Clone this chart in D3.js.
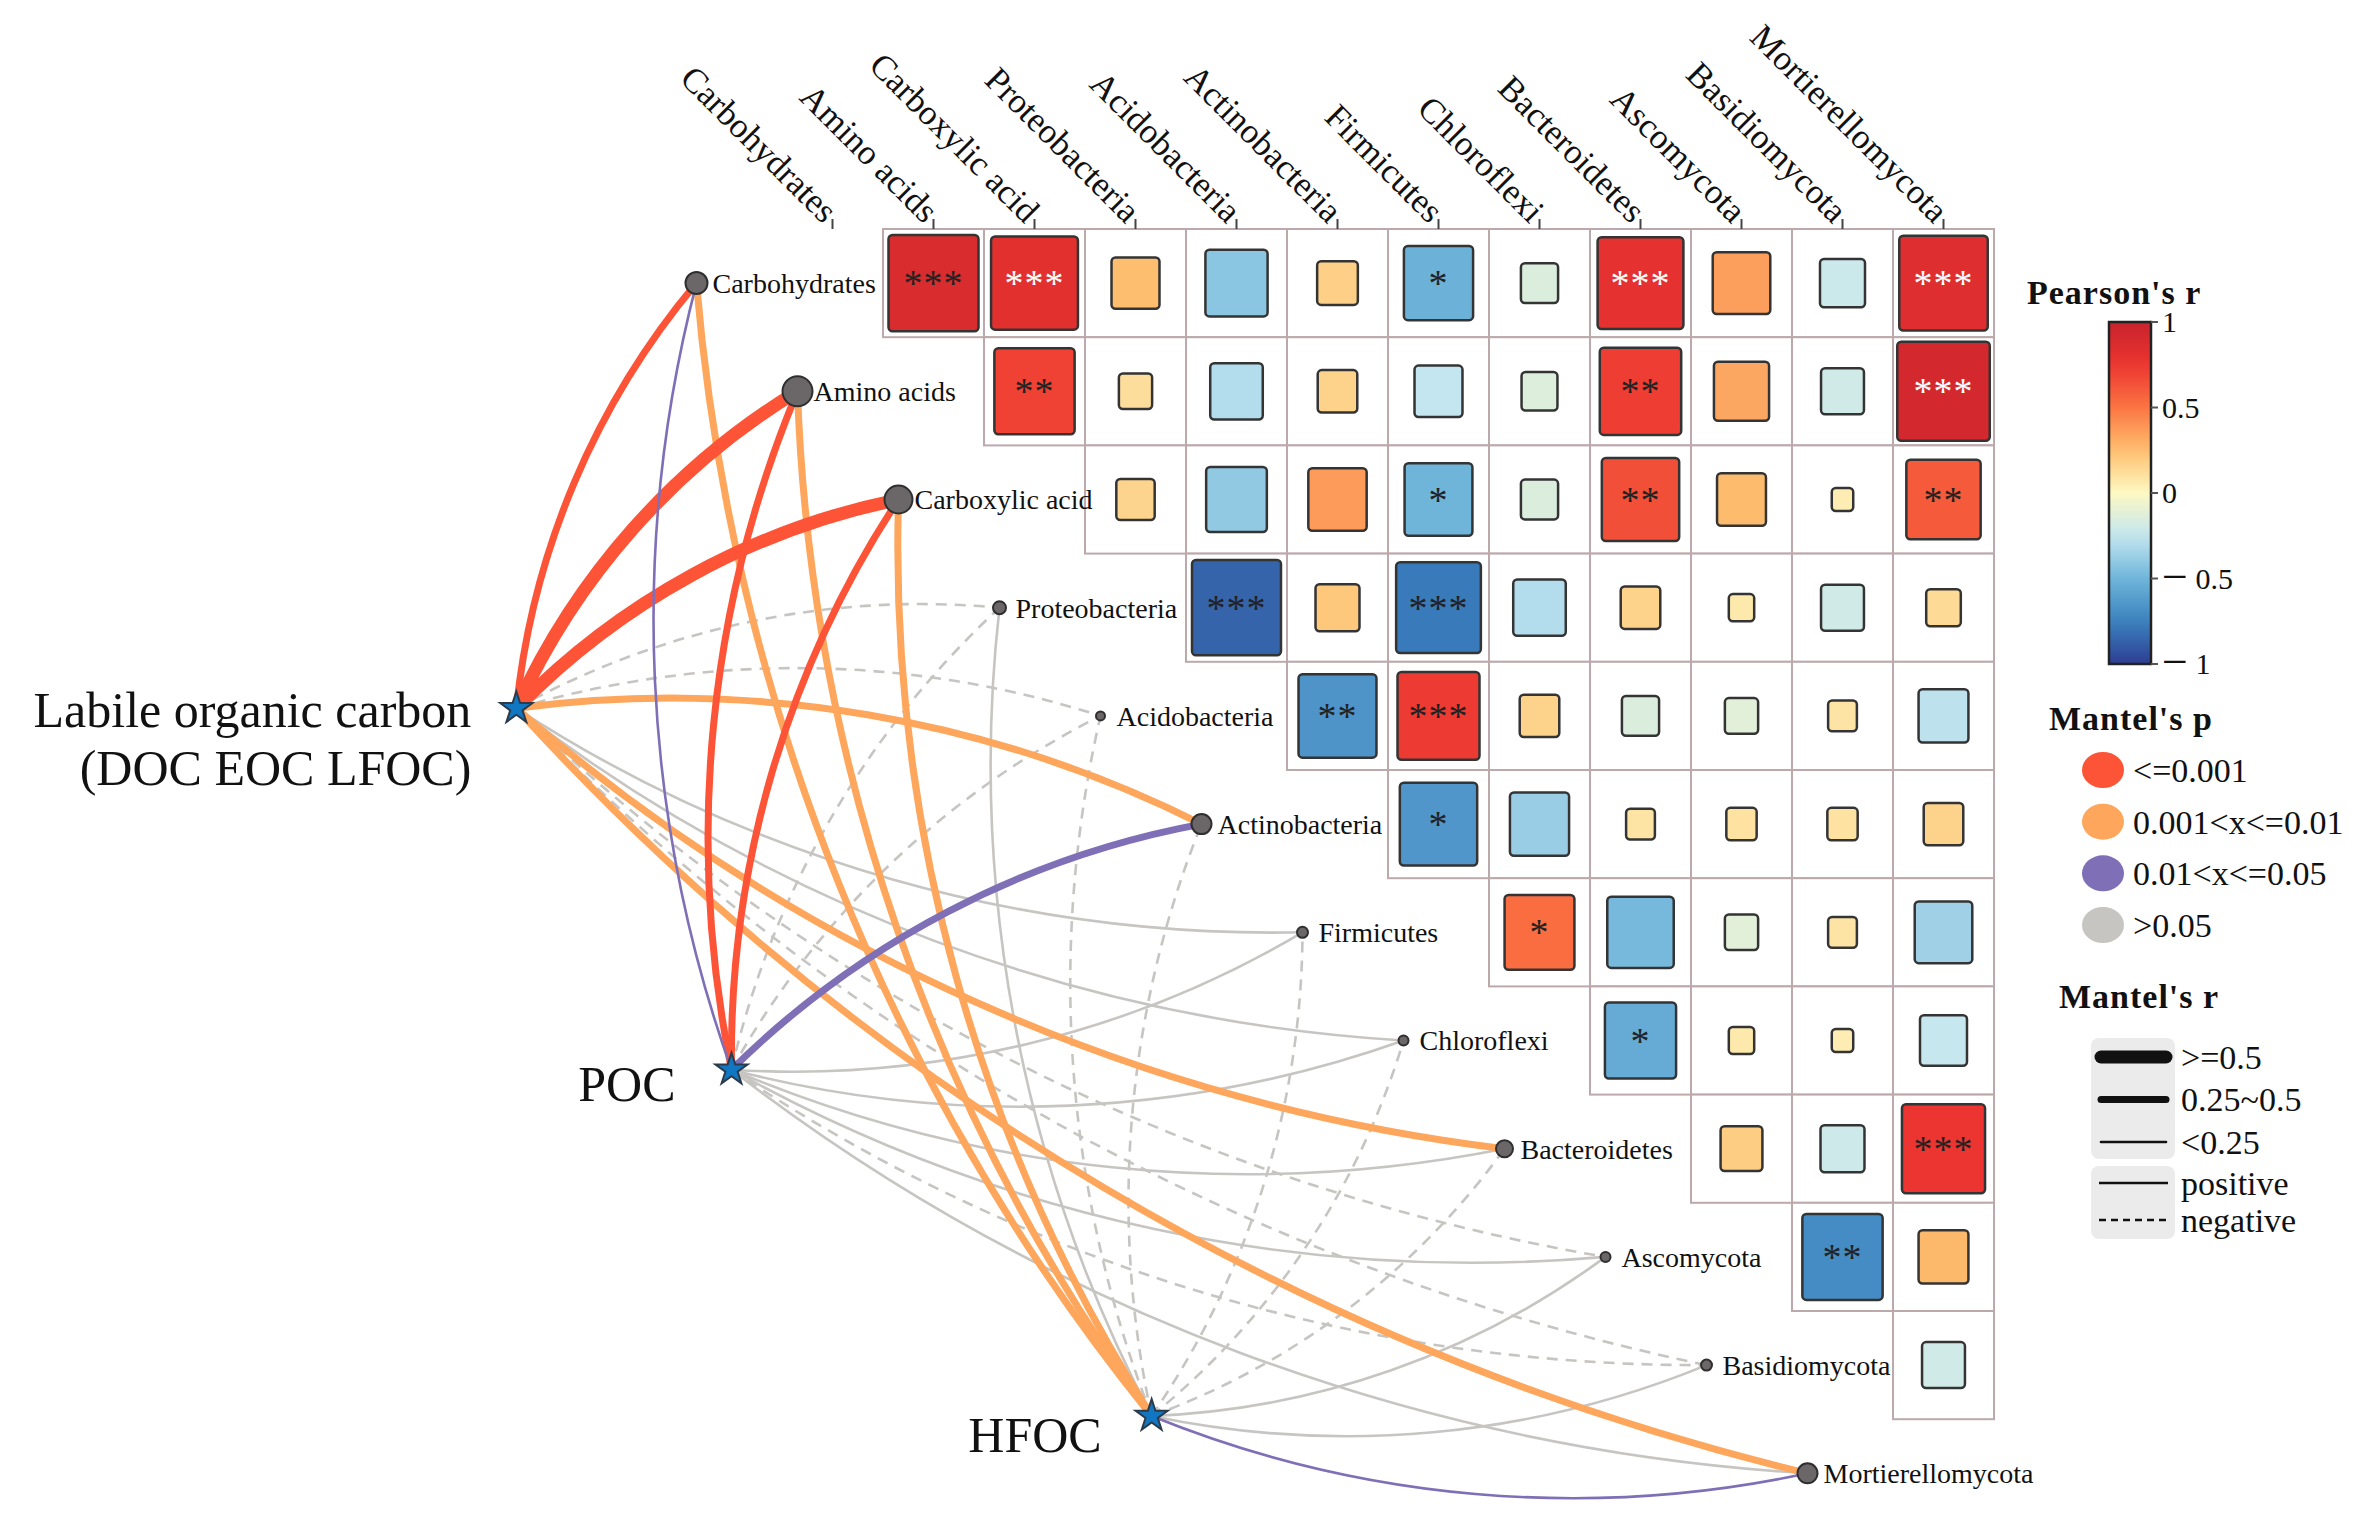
<!DOCTYPE html>
<html><head><meta charset="utf-8">
<script src="https://cdn.jsdelivr.net/npm/d3@7"></script>
<style>
html,body{margin:0;padding:0;background:#fff;}
svg text{font-family:"Liberation Serif","Times New Roman",serif;fill:#111;}
</style></head><body>
<svg id="chart" width="2367" height="1522"></svg>
<script>
// ---------------- DATA ----------------
const variables = ["Carbohydrates","Amino acids","Carboxylic acid","Proteobacteria","Acidobacteria","Actinobacteria","Firmicutes","Chloroflexi","Bacteroidetes","Ascomycota","Basidiomycota","Mortierellomycota"];

// Pearson's r, upper triangle: row i holds r with columns i+1 .. 11
const pearsonR = [
 [0.88, 0.82, 0.25, -0.42, 0.18, -0.52, -0.15, 0.80, 0.36, -0.22, 0.85],
 [0.70, 0.12, -0.30, 0.17, -0.25, -0.14, 0.72, 0.33, -0.20, 0.93],
 [0.16, -0.40, 0.37, -0.50, -0.15, 0.65, 0.26, 0.05, 0.60],
 [-0.86, 0.21, -0.78, -0.30, 0.17, 0.07, -0.20, 0.13],
 [-0.66, 0.73, 0.17, -0.15, -0.12, 0.09, -0.27],
 [-0.65, -0.38, 0.09, 0.10, 0.10, 0.17],
 [0.53, -0.48, -0.12, 0.09, -0.36],
 [-0.55, 0.07, 0.05, -0.24],
 [0.19, -0.21, 0.75],
 [-0.70, 0.27],
 [-0.20]
];
const pearsonSig = [
 ["***","***","","","","*","","***","","","***"],
 ["**","","","","","","**","","","***"],
 ["","","","*","","**","","","**"],
 ["***","","***","","","","",""],
 ["**","***","","","","",""],
 ["*","","","","",""],
 ["*","","","",""],
 ["*","","",""],
 ["","","***"],
 ["**",""],
 [""]
];
// cells whose significance marks are printed in white
const whiteMarks = [["Carbohydrates","Carboxylic acid"],["Carbohydrates","Bacteroidetes"],["Carbohydrates","Mortierellomycota"],["Amino acids","Mortierellomycota"]];

const sources = ["Labile organic carbon|(DOC EOC LFOC)", "POC", "HFOC"];
// Mantel r / p for each source against each variable
const mantelR_LOC  = [0.40, 0.58, 0.56, -0.12, -0.10, 0.33, 0.14, 0.11, 0.31, -0.08, -0.06, 0.29];
const mantelP_LOC  = [0.001, 0.001, 0.001, 0.32, 0.41, 0.004, 0.12, 0.21, 0.006, 0.55, 0.62, 0.008];
const mantelR_POC  = [0.18, 0.36, 0.34, -0.09, -0.11, 0.27, 0.13, 0.10, 0.08, 0.05, -0.07, 0.12];
const mantelP_POC  = [0.03, 0.001, 0.001, 0.40, 0.35, 0.02, 0.15, 0.24, 0.30, 0.52, 0.45, 0.20];
const mantelR_HFOC = [0.31, 0.33, 0.29, 0.09, -0.08, -0.10, -0.07, -0.12, -0.06, 0.11, 0.10, 0.19];
const mantelP_HFOC = [0.005, 0.004, 0.007, 0.25, 0.50, 0.33, 0.60, 0.38, 0.70, 0.20, 0.26, 0.04];
// node sizes
const nodeSize = [11, 15, 14, 6.5, 4.5, 10, 5.5, 5, 8.5, 5, 5.5, 10];

const colorbarTicks = [1, 0.5, 0, -0.5, -1];
const pLegendLabels = ["<=0.001", "0.001<x<=0.01", "0.01<x<=0.05", ">0.05"];
const rLegendLabels = [">=0.5", "0.25~0.5", "<0.25"];
const signLegendLabels = ["positive", "negative"];

// ---------------- STYLE / LAYOUT ----------------
const W = 2367, H = 1522;
const gridLeft = 782, cellW = 101, gridTop = 229, cellH = 108.2;
const colorStops = [-1, -0.75, -0.5, -0.25, 0, 0.25, 0.5, 0.75, 1];
const colorRange = ["#2e3d92","#3b82bf","#6fb5da","#c4e6f0","#fdf9c3","#fdbf6f","#fb7543","#ec3530","#c8232d"];
const pColors = ["#fd5437","#fda65c","#7e6fb7","#c7c5c2"];
const rWidths = [13, 7, 2.6];
const sourceAnchor = [[-2.63, 4.43], [-0.5, 7.77], [3.66, 10.97]]; // in cell units
const sourceLabelOffset = [[-45, 19], [-56, 31], [-50, 36]];

const svg = d3.select("#chart");
svg.append("rect").attr("width", W).attr("height", H).attr("fill", "#fff");

const x = d3.scaleBand().domain(variables).range([gridLeft, gridLeft + cellW * variables.length]);
const y = d3.scaleBand().domain(variables).range([gridTop, gridTop + cellH * variables.length]);
const ux = d3.scaleLinear().domain([0, variables.length]).range(x.range());
const uy = d3.scaleLinear().domain([0, variables.length]).range(y.range());
const cx = v => x(v) + x.bandwidth() / 2;
const cy = v => y(v) + y.bandwidth() / 2;
const color = d3.scaleLinear().domain(colorStops).range(colorRange);
const sizeScale = d3.scaleSqrt().domain([0, 1]).range([0, 0.95]);
const nodeR = d3.scaleLinear().domain([0, 1]).range([0, 1]);

const pCat = p => p <= 0.001 ? 0 : p <= 0.01 ? 1 : p <= 0.05 ? 2 : 3;
const rCat = r => Math.abs(r) >= 0.5 ? 0 : Math.abs(r) >= 0.25 ? 1 : 2;

// ---------------- LINKS ----------------
const mantelR = [mantelR_LOC, mantelR_POC, mantelR_HFOC];
const mantelP = [mantelP_LOC, mantelP_POC, mantelP_HFOC];
const srcPos = sourceAnchor.map(a => [ux(a[0]), uy(a[1])]);
const nodeX = v => cx(v) - 136;
const nodeY = v => cy(v);

const links = [];
sources.forEach((s, si) => variables.forEach((v, vi) => {
  links.push({si, vi, v, r: mantelR[si][vi], p: mantelP[si][vi]});
}));
const drawOrder = [3, 1, 0, 2];
links.sort((a, b) => drawOrder.indexOf(pCat(a.p)) - drawOrder.indexOf(pCat(b.p)));

function arcPath(d) {
  const [x1, y1] = srcPos[d.si];
  const x2 = nodeX(d.v), y2 = nodeY(d.v);
  const L = Math.hypot(x2 - x1, y2 - y1);
  const R = L * 1.7;
  const sweep = d.vi < variables.length / 2 ? 1 : 0;
  return `M${x1},${y1}A${R},${R} 0 0 ${sweep} ${x2},${y2}`;
}
svg.append("g").selectAll("path").data(links).join("path")
  .attr("d", arcPath)
  .attr("fill", "none")
  .attr("stroke", d => pColors[pCat(d.p)])
  .attr("stroke-width", d => rWidths[rCat(d.r)])
  .attr("stroke-dasharray", d => d.r < 0 ? "11,8" : null);

// ---------------- CORRELATION GRID ----------------
const cells = [];
pearsonR.forEach((row, i) => row.forEach((r, k) => {
  const j = i + 1 + k;
  cells.push({row: variables[i], col: variables[j], r, sig: pearsonSig[i][k]});
}));
const gGrid = svg.append("g");
gGrid.selectAll("rect.cell").data(cells).join("rect").attr("class", "cell")
  .attr("x", d => x(d.col)).attr("y", d => y(d.row))
  .attr("width", x.bandwidth()).attr("height", y.bandwidth())
  .attr("fill", "#fff").attr("stroke", "#bca9ac").attr("stroke-width", 2);
gGrid.selectAll("rect.sq").data(cells).join("rect").attr("class", "sq")
  .attr("x", d => cx(d.col) - x.bandwidth() * sizeScale(Math.abs(d.r)) / 2)
  .attr("y", d => cy(d.row) - y.bandwidth() * sizeScale(Math.abs(d.r)) / 2)
  .attr("width", d => x.bandwidth() * sizeScale(Math.abs(d.r)))
  .attr("height", d => y.bandwidth() * sizeScale(Math.abs(d.r)))
  .attr("rx", 4).attr("fill", d => color(d.r))
  .attr("stroke", "#343434").attr("stroke-width", 2.5);
const isWhite = d => whiteMarks.some(w => w[0] === d.row && w[1] === d.col);
gGrid.selectAll("text.sig").data(cells.filter(d => d.sig)).join("text").attr("class", "sig")
  .attr("x", d => cx(d.col)).attr("y", d => cy(d.row) + 13)
  .attr("text-anchor", "middle").attr("font-size", 38).attr("letter-spacing", 1)
  .style("fill", d => isWhite(d) ? "#ffffff" : "#222")
  .text(d => d.sig);

// column ticks + labels
const gTop = svg.append("g");
gTop.selectAll("line").data(variables).join("line")
  .attr("x1", v => cx(v)).attr("x2", v => cx(v))
  .attr("y1", gridTop - 10).attr("y2", gridTop)
  .attr("stroke", "#444").attr("stroke-width", 2);
gTop.selectAll("text").data(variables).join("text")
  .attr("transform", v => `translate(${cx(v) - 1},${gridTop - 13}) rotate(45)`)
  .attr("text-anchor", "end").attr("dy", "0.35em").attr("font-size", 35)
  .text(v => v);

// ---------------- NODES ----------------
const gNodes = svg.append("g");
gNodes.selectAll("circle").data(variables).join("circle")
  .attr("cx", nodeX).attr("cy", nodeY)
  .attr("r", (v, i) => nodeR(nodeSize[i]))
  .attr("fill", "#6b6768").attr("stroke", "#2f2f2f").attr("stroke-width", 2);
gNodes.selectAll("text").data(variables).join("text")
  .attr("x", v => nodeX(v) + 16).attr("y", nodeY)
  .attr("dy", "0.35em").attr("font-size", 28)
  .text(v => v);

// stars
const star = d3.symbol().type(d3.symbolStar).size(320);
svg.append("g").selectAll("path").data(srcPos).join("path")
  .attr("transform", d => `translate(${d[0]},${d[1]})`)
  .attr("d", star).attr("fill", "#1277c2").attr("stroke", "#2c3b4a").attr("stroke-width", 2);

// source labels
sources.forEach((s, si) => {
  const lines = s.split("|");
  const t = svg.append("text")
    .attr("text-anchor", "end").attr("font-size", 50)
    .attr("x", srcPos[si][0] + sourceLabelOffset[si][0])
    .attr("y", srcPos[si][1] + sourceLabelOffset[si][1]);
  lines.forEach((ln, li) => t.append("tspan")
    .attr("x", srcPos[si][0] + sourceLabelOffset[si][0])
    .attr("dy", li === 0 ? 0 : 58).text(ln));
});

// ---------------- LEGENDS ----------------
const lg = svg.append("g");
lg.append("text").attr("x", 2027).attr("y", 304).attr("font-size", 34).attr("font-weight", "bold")
  .attr("letter-spacing", 1).text("Pearson's r");
const cbX = 2109, cbW = 42, cbTop = 322, cbBot = 664;
const cbY = d3.scaleLinear().domain([1, -1]).range([cbTop, cbBot]);
const defs = svg.append("defs");
const grad = defs.append("linearGradient").attr("id", "cbgrad")
  .attr("x1", 0).attr("x2", 0).attr("y1", 0).attr("y2", 1);
d3.range(0, 1.0001, 0.05).forEach(t => {
  grad.append("stop").attr("offset", t).attr("stop-color", color(1 - 2 * t));
});
lg.append("rect").attr("x", cbX).attr("y", cbTop).attr("width", cbW).attr("height", cbBot - cbTop)
  .attr("fill", "url(#cbgrad)").attr("stroke", "#222").attr("stroke-width", 2.5);
lg.selectAll("line.cbt").data(colorbarTicks).join("line").attr("class", "cbt")
  .attr("x1", cbX + cbW).attr("x2", cbX + cbW + 7)
  .attr("y1", d => cbY(d)).attr("y2", d => cbY(d))
  .attr("stroke", "#555").attr("stroke-width", 2);
const cbl = lg.selectAll("text.cbl").data(colorbarTicks).join("text").attr("class", "cbl")
  .attr("x", cbX + cbW + 11).attr("y", d => cbY(d) + 10)
  .attr("font-size", 30);
cbl.each(function(d) {
  const t = d3.select(this);
  if (d < 0) {
    t.append("tspan").attr("font-size", 46).attr("dy", 3).text("\u2212");
    t.append("tspan").attr("dy", -3).text(" " + Math.abs(d));
  } else {
    t.text(String(d));
  }
});

lg.append("text").attr("x", 2049).attr("y", 730).attr("font-size", 34).attr("font-weight", "bold")
  .attr("letter-spacing", 1).text("Mantel's p");
const pY = d3.scalePoint().domain(pLegendLabels).range([770, 925]);
lg.selectAll("ellipse").data(pLegendLabels).join("ellipse")
  .attr("cx", 2103).attr("cy", d => pY(d)).attr("rx", 21).attr("ry", 18)
  .attr("fill", (d, i) => pColors[i]);
lg.selectAll("text.pl").data(pLegendLabels).join("text").attr("class", "pl")
  .attr("x", 2133).attr("y", d => pY(d)).attr("dy", "0.35em").attr("font-size", 34)
  .text(d => d);

lg.append("text").attr("x", 2059).attr("y", 1008).attr("font-size", 34).attr("font-weight", "bold")
  .attr("letter-spacing", 1).text("Mantel's r");
lg.append("rect").attr("x", 2091).attr("y", 1038).attr("width", 84).attr("height", 121).attr("rx", 8).attr("fill", "#ebebeb");
lg.append("rect").attr("x", 2091).attr("y", 1166).attr("width", 84).attr("height", 73).attr("rx", 8).attr("fill", "#ebebeb");
const rY = d3.scalePoint().domain(rLegendLabels).range([1057, 1142]);
lg.selectAll("line.rl").data(rLegendLabels).join("line").attr("class", "rl")
  .attr("x1", 2101).attr("x2", 2166).attr("y1", d => rY(d)).attr("y2", d => rY(d))
  .attr("stroke", "#111").attr("stroke-linecap", "round")
  .attr("stroke-width", (d, i) => rWidths[i]);
lg.selectAll("text.rt").data(rLegendLabels).join("text").attr("class", "rt")
  .attr("x", 2181).attr("y", d => rY(d)).attr("dy", "0.35em").attr("font-size", 34).text(d => d);
const sY = d3.scalePoint().domain(signLegendLabels).range([1183, 1220]);
lg.selectAll("line.sl").data(signLegendLabels).join("line").attr("class", "sl")
  .attr("x1", 2099).attr("x2", 2168).attr("y1", d => sY(d)).attr("y2", d => sY(d))
  .attr("stroke", "#111").attr("stroke-width", 2.6)
  .attr("stroke-dasharray", (d, i) => i === 1 ? "7,5" : null);
lg.selectAll("text.st").data(signLegendLabels).join("text").attr("class", "st")
  .attr("x", 2181).attr("y", d => sY(d)).attr("dy", "0.35em").attr("font-size", 34).text(d => d);
</script>
</body></html>
